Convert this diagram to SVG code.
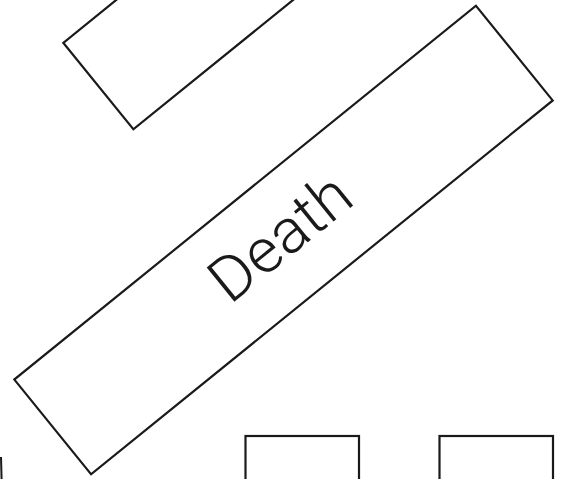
<svg xmlns="http://www.w3.org/2000/svg" width="567" height="479" viewBox="0 0 567 479">
<style>
.box{fill:#fff;stroke:#1a1a1a;stroke-width:2.2;stroke-linejoin:miter}
.lbl{font-family:Roboto,"Liberation Sans",sans-serif;font-weight:300;font-size:62px;fill:#1a1a1a}
</style>
<rect width="567" height="479" fill="#fff"/>
<g id="connectors"></g>
<g id="upper-box" transform="translate(283.5,240) rotate(-39)">
<rect class="box" x="-47" y="-291.8" width="520" height="111.3"/>
</g>
<g id="death" transform="translate(283.5,240) rotate(-39)">
<rect class="box" x="-297" y="-61" width="594" height="122"/>
<text class="lbl" x="-1" y="17" text-anchor="middle" textLength="163" lengthAdjust="spacingAndGlyphs">Death</text>
</g>
<g id="bottom-box-1">
<rect class="box" x="245.5" y="436" width="113.5" height="60"/>
</g>
<g id="bottom-box-2">
<rect class="box" x="439.5" y="436" width="113.5" height="60"/>
</g>
<g id="edge-mark">
<line x1="1" y1="457" x2="1.6" y2="480" stroke="#1a1a1a" stroke-width="2"/>
</g>
</svg>
